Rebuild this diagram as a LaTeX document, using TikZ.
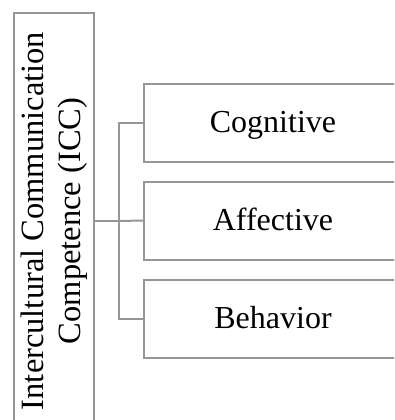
\documentclass[tikz,border=0pt]{standalone}
\usepackage{fontspec}
\setmainfont{Liberation Serif}
\usepackage{tikz}
\usetikzlibrary{positioning}
\usepackage{xcolor}
\definecolor{boxgray}{RGB}{150,150,150}

\begin{document}
\begin{tikzpicture}[x=1pt,y=-1pt,line width=2pt,
  part/.style={draw=boxgray,minimum width=258pt,minimum height=78pt,inner sep=0pt,
    font=\fontsize{32}{37}\selectfont,text height=25.6pt,text depth=6.4pt}]
\clip (0,0) rectangle (394,420);
\node[draw=boxgray,rotate=90,minimum width=416pt,minimum height=80pt,inner sep=0pt,align=center,
  font=\fontsize{32.5}{37}\selectfont] (icc) at (54,221) {Intercultural Communication\\Competence (ICC)};
\node[part] (cog) at (273,122.5) {Cognitive};
\node[part] (aff) at (273,220.5) {Affective};
\node[part] (beh) at (273,319) {Behavior};
\coordinate (fork) at (119,221);
\draw[boxgray] (icc.south) -- (fork);
\draw[boxgray] (fork) |- (cog.west);
\draw[boxgray] (fork) -- (aff.west);
\draw[boxgray] (fork) |- (beh.west);
\end{tikzpicture}
\end{document}
